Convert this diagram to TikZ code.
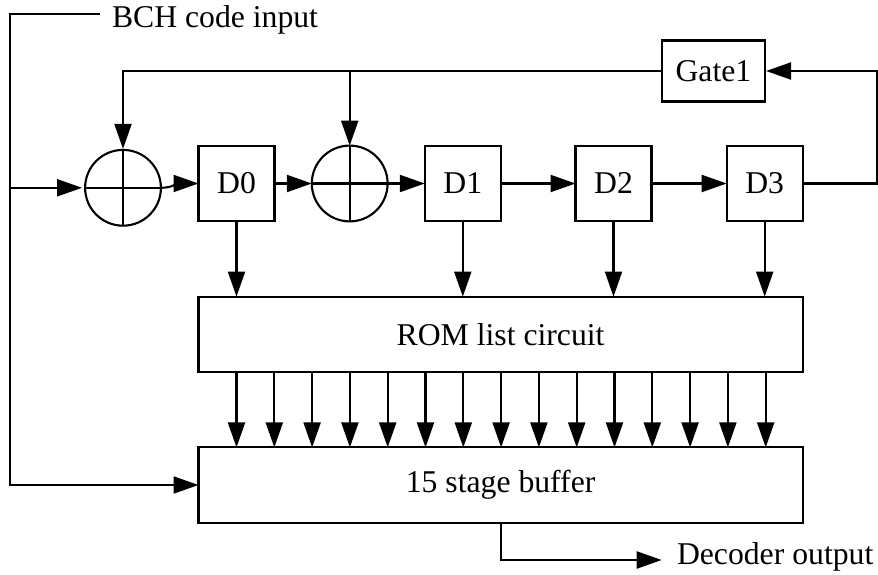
\documentclass[tikz,border=0pt]{standalone}
\usepackage{fontspec}
\setmainfont{Liberation Serif}
\usetikzlibrary{arrows.meta}
\tikzset{
  wire/.style={line width=2.1pt},
  arr/.style={wire,-{Triangle[length=25pt,width=17pt]}},
  block/.style={draw,line width=2.1pt,rectangle,inner sep=0pt,outer sep=0pt,font=\fontsize{31.7}{36}\selectfont},
  dbox/.style={block,minimum width=76pt,minimum height=75.5pt},
  wide/.style={block,minimum width=604.2pt,minimum height=75.2pt},
  xorc/.style={draw,line width=2.1pt,circle,inner sep=0pt,outer sep=0pt,minimum size=75.8pt},
  lbl/.style={inner sep=0pt,outer sep=0pt,anchor=base west,font=\fontsize{31.7}{36}\selectfont}
}
\begin{document}
\begin{tikzpicture}[x=1pt,y=-1pt]
\useasboundingbox (0,0) rectangle (878,575);
% blocks
\node[xorc] (c1) at (123,187.8) {};
\node[dbox] (d0) at (236.5,183.5) {D0};
\node[xorc] (c2) at (349.7,183.5) {};
\node[dbox] (d1) at (462.8,183.5) {D1};
\node[dbox] (d2) at (613.5,183.5) {D2};
\node[dbox] (d3) at (764.7,183.5) {D3};
\node[block,minimum width=103.3pt,minimum height=61pt] (gate) at (713.4,71) {Gate1};
\node[wide] (rom) at (500.6,334.2) {ROM list circuit};
\node[wide] (buf) at (500.6,485) {15 stage buffer};
\node[lbl] (bch) at (112,28) {BCH code input};
\node[lbl] (dec) at (677,564) {Decoder output};
% free ends
\coordinate (instart) at (100,14);
\coordinate (corner) at (10,14);
\coordinate (junc) at (10,187.8);
\coordinate (rt) at (877,71);
\coordinate (outp) at (661.7,560);
% crosses in the adders
\draw[wire] (c1.north) -- (c1.south);
\draw[wire] (c1.west) -- (c1.east);
\draw[wire] (c2.north) -- (c2.south);
\draw[wire] (c2.west) -- (c2.east);
% input lines
\draw[wire] (instart) -- (corner) -- (junc);
\draw[arr] (junc) |- (buf.west);
\draw[arr,shorten >=3pt] (junc) -- (c1.west);
% main chain
\draw[arr] (c1.east) .. controls (172,187.8) and (178,183.5) .. (d0.west);
\draw[arr] (d0.east) -- (c2.west);
\draw[arr] (c2.east) -- (d1.west);
\draw[arr] (d1.east) -- (d2.west);
\draw[arr] (d2.east) -- (d3.west);
% feedback
\draw[arr,shorten >=1pt] (d3.east) -| (rt) -- (gate.east);
\draw[arr,shorten >=1pt] (gate.west) -| (c1.north);
\draw[arr] (c2.north |- gate.west) -- (c2.north);
% registers to ROM
\foreach \d in {d0,d1,d2,d3}
  \draw[arr] (\d.south) -- (\d.south |- rom.north);
% ROM to buffer
\foreach \i in {0,...,14}
  \draw[arr] ([xshift=38pt+\i*37.8pt]rom.south west) -- ([xshift=38pt+\i*37.8pt]buf.north west);
% output
\draw[arr] (buf.south) |- (outp);
\end{tikzpicture}
\end{document}
